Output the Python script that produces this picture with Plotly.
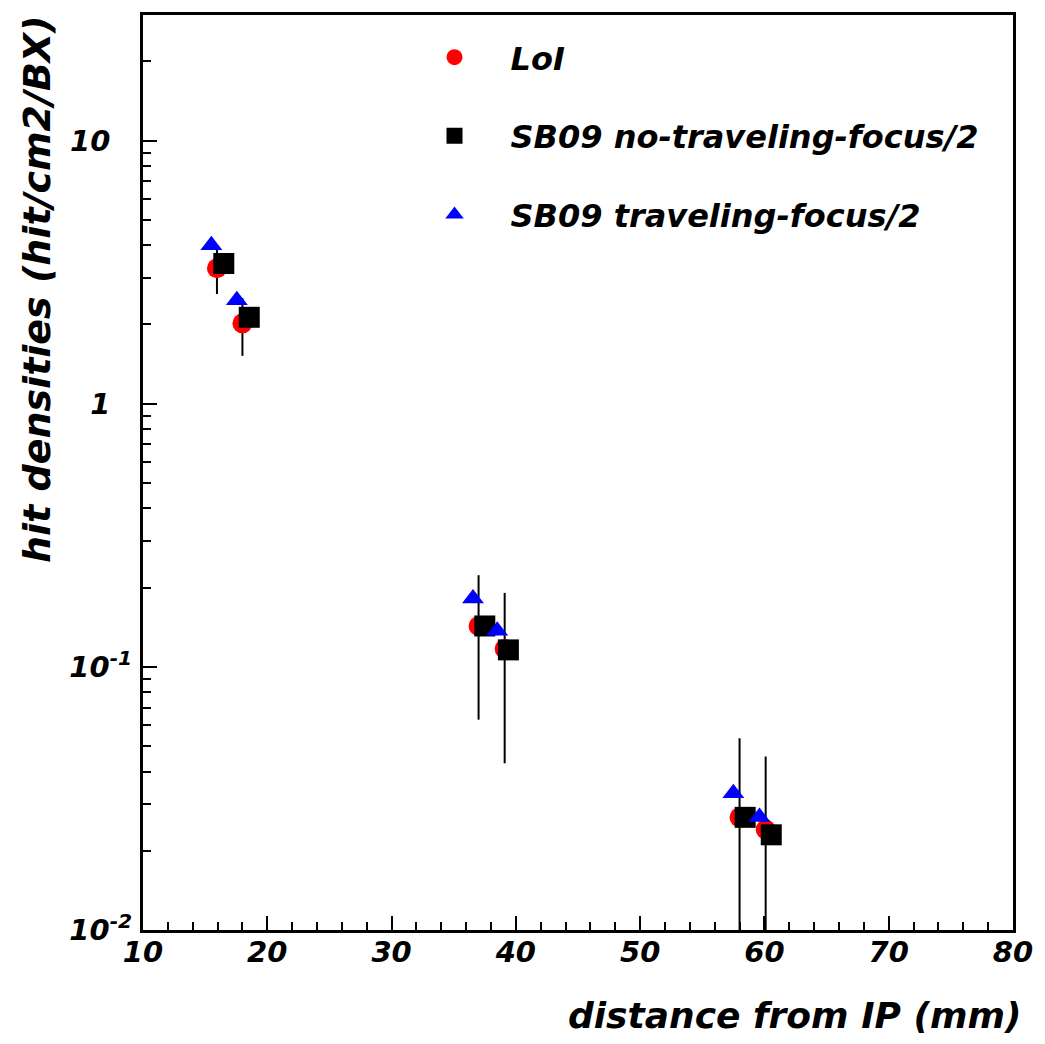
import plotly.graph_objects as go

# Hit densities per layer vs. radial distance from the interaction point
loi_x = [15.95, 18.0, 37.0, 39.1, 58.0, 60.1]
loi_y = [3.27, 2.02, 0.143, 0.117, 0.0268, 0.0241]
loi_err = [0.66, 0.50, 0.080, 0.074, 0.0267, 0.0215]

ntf_x = [16.5, 18.55, 37.5, 39.4, 58.45, 60.55]
ntf_y = [3.41, 2.13, 0.143, 0.116, 0.0268, 0.0230]

tf_x = [15.5, 17.55, 36.55, 38.5, 57.5, 59.6]
tf_y = [4.0, 2.47, 0.182, 0.137, 0.0331, 0.0269]

names = ["LoI", "SB09 no-traveling-focus/2", "SB09 traveling-focus/2"]

y_tickvals = [0.01, 0.1, 1, 10]
pad = "<sup>\u2007\u2008</sup>"  # blank exponent so plain labels line up with 10^n ones
y_ticktext = ["10<sup>-2</sup>", "10<sup>-1</sup>", "1" + pad, "10" + pad]
y_minor = [m * d for d in (0.01, 0.1, 1) for m in range(2, 10)] + [20]

FONT = "DejaVu Sans"

fig = go.Figure()
fig.add_trace(go.Scatter(
    x=loi_x, y=loi_y, mode="markers", name=names[0], legendgroup="a",
    marker=dict(symbol="circle", size=20, color="#ff0000", line=dict(width=0)),
    error_y=dict(type="data", array=loi_err, visible=True, color="black",
                 thickness=2, width=0),
))
fig.add_trace(go.Scatter(
    x=ntf_x, y=ntf_y, mode="markers", name=names[1], legendgroup="b",
    marker=dict(symbol="square", size=21, color="black", line=dict(width=0)),
))
fig.add_trace(go.Scatter(
    x=tf_x, y=tf_y, mode="markers", name=names[2], legendgroup="c",
    marker=dict(symbol="triangle-up", size=19, color="#0000ff", line=dict(width=0)),
))

axis_common = dict(
    showline=True, linecolor="black", linewidth=3, mirror=True,
    showgrid=False, zeroline=False,
    ticks="inside", ticklen=14, tickwidth=2, tickcolor="black",
    tickfont=dict(family=FONT, size=29, color="black", weight="bold", style="italic"),
)

fig.update_xaxes(
    range=[10, 80], tickmode="linear", tick0=10, dtick=10,
    minor=dict(ticks="inside", ticklen=8, tickwidth=2, tickcolor="black", dtick=2),
    ticklabelstandoff=-6,
    **axis_common,
)
fig.update_yaxes(
    type="log", range=[-2, 1.4771],
    tickmode="array", tickvals=y_tickvals, ticktext=y_ticktext,
    minor=dict(ticks="inside", ticklen=8, tickwidth=2, tickcolor="black",
               tickmode="array", tickvals=y_minor),
    ticklabelstandoff=2,
    **axis_common,
)

fig.update_layout(
    width=1045, height=1044,
    margin=dict(l=143, r=27, t=12, b=114),
    paper_bgcolor="white", plot_bgcolor="white",
    font=dict(family=FONT, color="black", weight="bold", style="italic"),
    showlegend=True,
    legend=dict(
        x=0.2937, y=0.9837, xanchor="left", yanchor="top",
        bgcolor="rgba(0,0,0,0)", borderwidth=0,
        font=dict(family=FONT, size=32, color="black", weight="bold", style="italic"),
        tracegroupgap=34, itemwidth=102,
    ),
    annotations=[
        dict(text="distance from IP (mm)", xref="paper", yref="paper",
             x=1, y=0, xanchor="right", yanchor="middle", xshift=10, yshift=-85,
             showarrow=False,
             font=dict(family=FONT, size=36, color="black", weight="bold", style="italic")),
        dict(text="hit densities (hit/cm2/BX)", xref="paper", yref="paper",
             x=0, y=1, xanchor="center", yanchor="top", xshift=-106, yshift=2,
             textangle=-90, showarrow=False,
             font=dict(family=FONT, size=38, color="black", weight="bold", style="italic")),
    ],
)

fig.write_html("out.html")
